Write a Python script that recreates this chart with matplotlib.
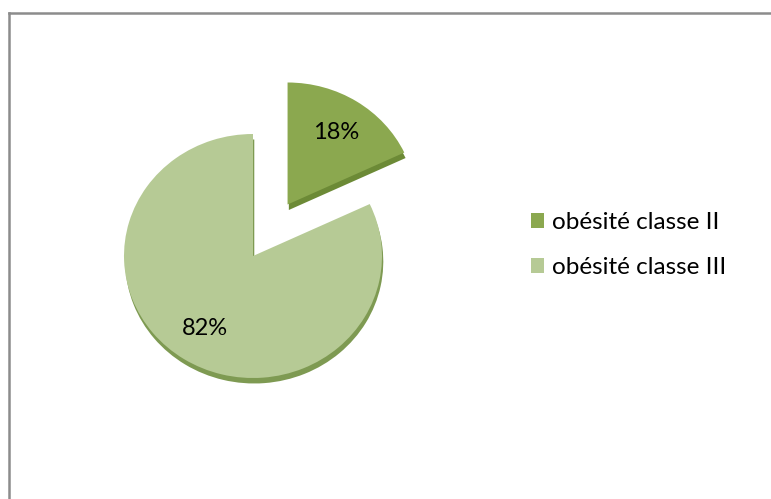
import matplotlib
matplotlib.use("Agg")
import matplotlib.pyplot as plt
from matplotlib.patches import Patch
from matplotlib.lines import Line2D

categories = ["obésité classe II", "obésité classe III"]
values = [18, 82]
colors = ["#8BA84F", "#B6CA95"]
depth_colors = ["#6C8A36", "#7E9A52"]

plt.rcParams['font.family'] = ['Lato', 'DejaVu Sans']

W, H = 771, 499
fig = plt.figure(figsize=(W / 100, H / 100), dpi=100)

# pie geometry (pixels)
cx, cy = 253, 256
rx, ry = 129, 122
lim = 1.6
aw, ah = 2 * lim * rx, 2 * lim * ry
ax = fig.add_axes([(cx - aw / 2) / W, (H - cy - ah / 2) / H, aw / W, ah / H])

explode = [0.5, 0.0]
# depth layer
ax.pie(values, colors=depth_colors, startangle=90, counterclock=False,
       explode=explode, center=(0.01, -0.045), wedgeprops=dict(linewidth=0))
ax.pie(values, colors=colors, startangle=90, counterclock=False,
       explode=explode, autopct='%1.0f%%', pctdistance=0.7,
       wedgeprops=dict(linewidth=0),
       textprops=dict(fontsize=17, color='black'))
ax.set_aspect('auto')
ax.set_xlim(-lim, lim)
ax.set_ylim(-lim, lim)
ax.axis('off')

handles = [Patch(facecolor=c, edgecolor='none') for c in colors]
fig.legend(handles, categories, loc='center left',
           bbox_to_anchor=(531 / W, 1 - 245 / H), frameon=False,
           fontsize=17.5, handlelength=0.55, handleheight=0.55,
           handletextpad=0.3, labelspacing=1.0, borderpad=0, borderaxespad=0)

# chart frame (cut off at right and bottom)
fig.add_artist(Line2D([8.5 / W, 8.5 / W], [0, 1 - 12.5 / H], color='#8C8C8C', lw=1.8))
fig.add_artist(Line2D([8.5 / W, 1], [1 - 12.5 / H, 1 - 12.5 / H], color='#8C8C8C', lw=1.8))

fig.savefig("out.png", dpi=100)
